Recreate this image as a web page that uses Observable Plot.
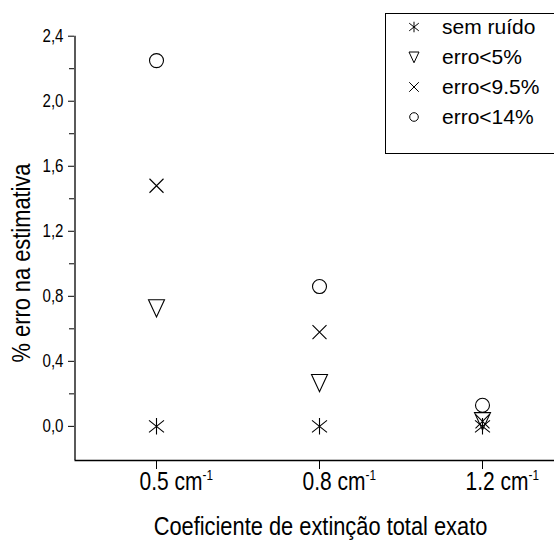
<!DOCTYPE html>
<html><head><meta charset="utf-8">
<script src="https://cdn.jsdelivr.net/npm/d3@7"></script>
<script src="https://cdn.jsdelivr.net/npm/@observablehq/plot@0.6"></script>
<style>
html,body{margin:0;padding:0;background:#fff;overflow:hidden;width:554px;height:549px;}
#wrap{position:relative;width:554px;height:549px;overflow:hidden;background:#fff;}
#wrap svg{display:block;}
#legend{position:absolute;left:385px;top:13px;width:169px;height:139px;border:1px solid #000;border-right:none;background:#fff;font-family:"Liberation Sans",Arial,sans-serif;font-size:21px;color:#000;overflow:hidden;}
.row{position:absolute;left:0;height:30px;width:169px;}
.row svg{position:absolute;left:18px;top:0;}
.row span{position:absolute;left:56px;top:0;line-height:30px;white-space:nowrap;}
</style></head><body><div id="wrap"><div id="legend"></div></div>
<script>
// ---- data ----
const categories = ["0.5 cm", "0.8 cm", "1.2 cm"];
const catSup = "-1";
const xPos = [1, 2, 3];
const series = ["sem ruído", "erro<5%", "erro<9.5%", "erro<14%"];
const semRuido = [0, 0, 0];
const erro5 = [0.73, 0.27, 0.035];
const erro95 = [1.48, 0.58, 0.03];
const erro14 = [2.25, 0.86, 0.13];
const yTicks = [0, 0.4, 0.8, 1.2, 1.6, 2.0, 2.4];
const yMinor = [0.2, 0.6, 1.0, 1.4, 1.8, 2.2];
const xTitle = "Coeficiente de extinção total exato";
const yTitle = "% erro na estimativa";
const xDom = [0.5, 3.5];
const yDom = [-0.21, 2.4];

// ---- symbols ----
const symAsterisk = {draw(c, s){const h = Math.sqrt(s/Math.PI);
  c.moveTo(0,-h*1.1); c.lineTo(0,h*1.1);
  c.moveTo(-h,-h*0.8); c.lineTo(h,h*0.8);
  c.moveTo(-h,h*0.8); c.lineTo(h,-h*0.8);}};
const symTriDown = {draw(c, s){const h = Math.sqrt(s/Math.PI);
  c.moveTo(-h,-h); c.lineTo(h,-h); c.lineTo(0,h*1.15); c.closePath();}};
const symTimes = {draw(c, s){const h = Math.sqrt(s/Math.PI);
  c.moveTo(-h,-h); c.lineTo(h,h); c.moveTo(-h,h); c.lineTo(h,-h);}};
const symCircle = {draw(c, s){const h = Math.sqrt(s/Math.PI);
  c.moveTo(h,0); c.arc(0,0,h,0,2*Math.PI);}};
const symbols = [symAsterisk, symTriDown, symTimes, symCircle];
const values = [semRuido, erro5, erro95, erro14];
const radii = [7.5, 8, 7, 7];

const dotMarks = values.map((vals, k) => Plot.dot(xPos, {
  x: d => d, y: (d, i) => vals[i], symbol: symbols[k], r: radii[k],
  stroke: "#000", fill: "none", strokeWidth: 1.1
}));

const chart = Plot.plot({
  width: 554, height: 549,
  marginLeft: 74, marginRight: 0, marginTop: 35, marginBottom: 89,
  style: {fontFamily: "'Liberation Sans', Arial, sans-serif", color: "#000", background: "#fff", overflow: "hidden"},
  x: {type: "linear", domain: xDom, range: [74.5, 563.5], axis: null},
  y: {domain: yDom, range: [460, 35.7], axis: null},
  marks: [
    Plot.ruleX([xDom[0]], {y1: yDom[0], y2: yDom[1], stroke: "#000", strokeWidth: 1.3}),
    Plot.ruleY([yDom[0]], {x1: xDom[0], x2: xDom[1], stroke: "#000", strokeWidth: 1.3}),
    Plot.axisY({ticks: yTicks, tickSize: 6, tickPadding: 5, label: null, fontSize: 18,
      tickFormat: d => d.toFixed(1).replace(".", ","), stroke: "#000"}),
    Plot.axisY({ticks: yMinor, tickSize: 5, label: null, tickFormat: () => ""}),
    Plot.axisX({ticks: xPos, tickSize: 9, label: null, tickFormat: () => ""}),
    Plot.text(categories, {x: (d, i) => xPos[i], frameAnchor: "bottom", textAnchor: "end",
      dx: 46, dy: 29, fontSize: 25, fill: "#000"}),
    Plot.text(categories, {x: (d, i) => xPos[i], text: () => catSup, frameAnchor: "bottom",
      textAnchor: "start", dx: 46, dy: 19, fontSize: 14, fill: "#000"}),
    Plot.text([xTitle], {frameAnchor: "bottom", textAnchor: "middle", dx: 6, dy: 74, fontSize: 26, fill: "#000"}),
    Plot.text([yTitle], {frameAnchor: "left", textAnchor: "middle", rotate: -90, dx: -53, dy: 15, fontSize: 26, fill: "#000"}),
    ...dotMarks
  ]
});

// condense axis texts horizontally (the reference uses a narrow-looking face)
chart.querySelectorAll("text").forEach(t => {
  let tr = t.getAttribute("transform");
  if (tr == null) {
    const x = t.getAttribute("x") || 0, y = t.getAttribute("y") || 0;
    t.removeAttribute("x"); t.removeAttribute("y");
    tr = `translate(${x},${y})`;
  }
  t.setAttribute("transform", tr + " scale(0.84,1)");
});

document.getElementById("wrap").prepend(chart);

// ---- legend ----
const legend = document.getElementById("legend");
const legendR = [4.8, 5, 4.8, 4.3];
series.forEach((name, k) => {
  const row = document.createElement("div");
  row.className = "row";
  row.style.top = (26.5 + 30.2 * k - 15 - 13 - 1) + "px";
  const p = d3.path();
  symbols[k].draw(p, Math.PI * legendR[k] * legendR[k]);
  row.innerHTML = `<svg width="20" height="30" viewBox="-10 -15 20 30"><path d="${p.toString()}" fill="none" stroke="#000" stroke-width="1"/></svg>`;
  const span = document.createElement("span");
  span.textContent = name;
  row.appendChild(span);
  legend.appendChild(row);
});
</script>
</body></html>
